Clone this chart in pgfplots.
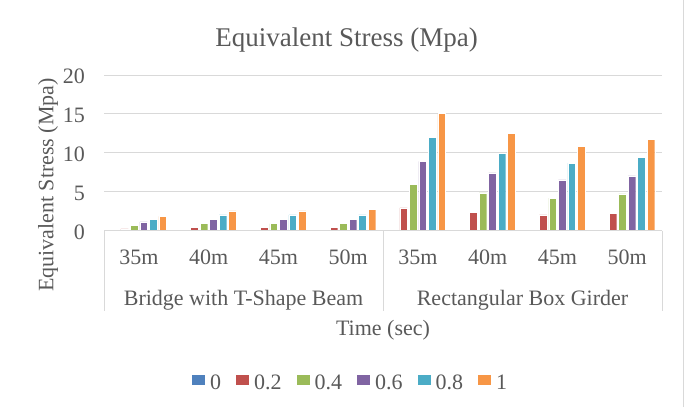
\documentclass[border=0pt]{standalone}
\usepackage{fontspec}
\setmainfont{Liberation Serif}
\usepackage{pgfplots}
\pgfplotsset{compat=1.18}
\definecolor{txt}{RGB}{89,89,89}
\definecolor{grd}{RGB}{217,217,217}
\definecolor{cA}{RGB}{79,129,189}
\definecolor{cB}{RGB}{192,80,77}
\definecolor{cC}{RGB}{155,187,89}
\definecolor{cD}{RGB}{128,100,162}
\definecolor{cE}{RGB}{75,172,198}
\definecolor{cF}{RGB}{247,150,70}
\begin{document}
\begin{tikzpicture}[x=1pt,y=1pt]
\path[use as bounding box] (-104,-176.3) rectangle (580,230.7);
\begin{axis}[
  at={(0,0)}, anchor=south west,
  scale only axis, width=558pt, height=155.7pt,
  xmin=-0.5, xmax=7.5, ymin=0, ymax=20,
  ytick={0,5,10,15,20},
  xtick={0,1,2,3,4,5,6,7},
  xticklabels={35m,40m,45m,50m,35m,40m,45m,50m},
  major tick length=0pt,
  axis line style={draw=none},
  ymajorgrids, major grid style={grd, line width=1pt},
  /pgf/number format/assume math mode=true,
  tick label style={font=\fontsize{22}{26}\selectfont, text=txt},
  yticklabel style={anchor=east, inner sep=0pt, xshift=-19pt, yshift=-1.5pt},
  xticklabel style={anchor=base, inner sep=0pt, yshift=-33.3pt},
  ybar=1.8pt, bar width=7.7pt,
  every axis plot/.append style={draw=white, line width=0.4pt},
  legend columns=6,
  legend style={draw=none, fill=none, at={(0.44,-0.978)}, anchor=center,
    font=\fontsize{22}{26}\selectfont, text=txt,
    nodes={inner sep=0pt},
    /tikz/every odd column/.append style={column sep=5pt},
    /tikz/every even column/.append style={column sep=15pt}},
  legend image code/.code={\fill[#1, draw=none] (-3pt,-2pt) rectangle (10pt,8pt);},
]
\addplot[fill=cA] coordinates {(0,0) (1,0) (2,0) (3,0) (4,0) (5,0) (6,0) (7,0)};
\addplot[fill=cB] coordinates {(0,0.22) (1,0.39) (2,0.39) (3,0.40) (4,2.92) (5,2.37) (6,2.02) (7,2.19)};
\addplot[fill=cC] coordinates {(0,0.73) (1,0.90) (2,0.90) (3,0.90) (4,5.98) (5,4.86) (6,4.17) (7,4.73)};
\addplot[fill=cD] coordinates {(0,1.12) (1,1.46) (2,1.46) (3,1.46) (4,8.90) (5,7.44) (6,6.54) (7,7.05)};
\addplot[fill=cE] coordinates {(0,1.46) (1,2.02) (2,2.02) (3,2.02) (4,11.96) (5,9.94) (6,8.69) (7,9.42)};
\addplot[fill=cF] coordinates {(0,1.85) (1,2.54) (2,2.54) (3,2.71) (4,15.05) (5,12.50) (6,10.84) (7,11.74)};
\legend{0,0.2,0.4,0.6,0.8,1}
\end{axis}
% category axis line and group separators
\draw[grd, line width=1pt] (0,0) -- (558,0);
\draw[grd, line width=1pt] (0,0) -- (0,-80.3) (279,0) -- (279,-80.3) (558,0) -- (558,-80.3);
% group labels
\node[anchor=base, inner sep=0pt, text=txt, font=\fontsize{22}{26}\selectfont] at (139.5,-74.3) {Bridge with T-Shape Beam};
\node[anchor=base, inner sep=0pt, text=txt, font=\fontsize{22}{26}\selectfont] at (418.5,-74.3) {Rectangular Box Girder};
% axis titles
\node[anchor=base, inner sep=0pt, text=txt, font=\fontsize{22}{26}\selectfont] at (279,-104.3) {Time (sec)};
\node[anchor=base, inner sep=0pt, rotate=90, text=txt, font=\fontsize{22}{26}\selectfont] at (-50.7,45.7) {Equivalent Stress (Mpa)};
% chart title
\node[anchor=base, inner sep=0pt, text=txt, font=\fontsize{27}{32}\selectfont] at (242.5,183.7) {Equivalent Stress (Mpa)};
% chart border (right edge)
\draw[grd, line width=0.75pt] (579.6,-176.3) -- (579.6,230.7);
\end{tikzpicture}
\end{document}
